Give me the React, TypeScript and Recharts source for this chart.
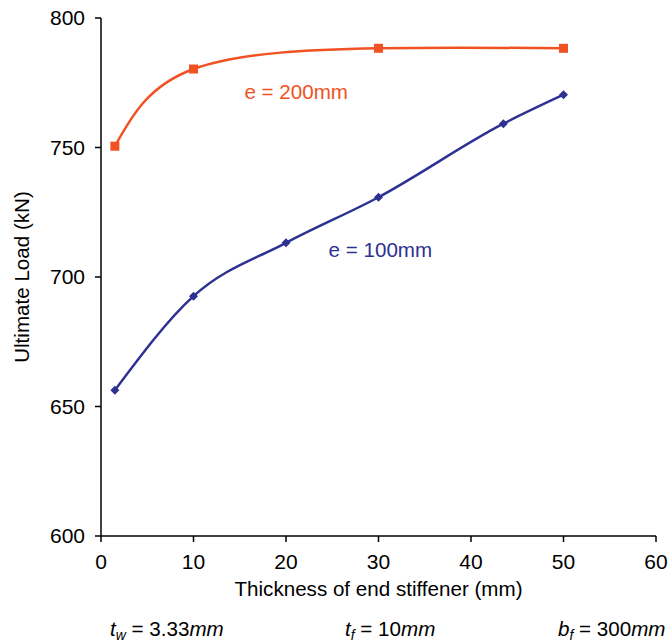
import React from 'react';
import { LineChart, Line, XAxis, YAxis, ReferenceDot } from 'recharts';

const thickness200 = [1.5, 10, 30, 50];
const load200 = [750.5, 780.3, 788.3, 788.3];
const thickness100 = [1.5, 10, 20, 30, 43.5, 50];
const load100 = [656.3, 692.6, 713.2, 730.8, 759.2, 770.4];
const xTicks = [0, 10, 20, 30, 40, 50, 60];
const yTicks = [600, 650, 700, 750, 800];

const series200 = thickness200.map((x, i) => ({ x, y: load200[i] }));
const series100 = thickness100.map((x, i) => ({ x, y: load100[i] }));

const ORANGE = '#F05223';
const BLUE = '#2E3192';
const FONT = 'Liberation Sans, Arial, sans-serif';

const SquareDot = (props: any) => {
  const { cx, cy } = props;
  if (cx == null || cy == null) return null;
  return <rect x={cx - 4.5} y={cy - 4.5} width={9} height={9} fill={ORANGE} />;
};

const DiamondDot = (props: any) => {
  const { cx, cy } = props;
  if (cx == null || cy == null) return null;
  return (
    <polygon
      points={`${cx},${cy - 4.5} ${cx + 4.5},${cy} ${cx},${cy + 4.5} ${cx - 4.5},${cy}`}
      fill={BLUE}
    />
  );
};

export default function App() {
  return (
    <div style={{ position: 'absolute', left: 0, top: 0, width: 670, height: 642, background: '#fff', fontFamily: FONT }}>
      <LineChart width={670} height={642} margin={{ top: 18, right: 14, bottom: 46, left: 41 }}>
        <XAxis
          type="number"
          dataKey="x"
          domain={[0, 60]}
          ticks={xTicks}
          allowDataOverflow
          stroke="#000"
          strokeWidth={1.5}
          tickSize={6}
          tick={{ fill: '#000', fontSize: 21, fontFamily: FONT }}
          tickMargin={12}
          height={60}
          label={{ value: 'Thickness of end stiffener (mm)', position: 'insideBottom', offset: 0, fill: '#000', fontSize: 20.6, fontFamily: FONT }}
        />
        <YAxis
          type="number"
          dataKey="y"
          domain={[600, 800]}
          ticks={yTicks}
          allowDataOverflow
          stroke="#000"
          strokeWidth={1.5}
          tickSize={6}
          tickMargin={10}
          width={60}
          tick={{ fill: '#000', fontSize: 21, fontFamily: FONT }}
          label={{ value: 'Ultimate Load (kN)', angle: -90, position: 'insideLeft', offset: -19, fill: '#000', fontSize: 20.6, fontFamily: FONT, style: { textAnchor: 'middle' } }}
        />
        <Line
          data={series200}
          dataKey="y"
          type="natural"
          stroke={ORANGE}
          strokeWidth={2.5}
          dot={<SquareDot />}
          activeDot={false}
          isAnimationActive={false}
        />
        <Line
          data={series100}
          dataKey="y"
          type="monotone"
          stroke={BLUE}
          strokeWidth={2.5}
          dot={<DiamondDot />}
          activeDot={false}
          isAnimationActive={false}
        />
        <ReferenceDot x={21.1} y={771.5} r={0} fill="none" stroke="none"
          label={{ value: 'e = 200mm', position: 'center', fill: ORANGE, fontSize: 20.6, fontFamily: FONT }} />
        <ReferenceDot x={30.2} y={710.5} r={0} fill="none" stroke="none"
          label={{ value: 'e = 100mm', position: 'center', fill: BLUE, fontSize: 20.6, fontFamily: FONT }} />
      </LineChart>
      <svg width={670} height={642} style={{ position: 'absolute', left: 0, top: 0, pointerEvents: 'none' }}>
        <text x={110} y={636} fontSize={20.6} fontFamily={FONT} fill="#000">
          <tspan fontStyle="italic">t</tspan>
          <tspan fontStyle="italic" fontSize={14} dy={4}>w</tspan>
          <tspan dy={-4}> = 3.33</tspan>
          <tspan fontStyle="italic">mm</tspan>
        </text>
        <text x={345} y={636} fontSize={20.6} fontFamily={FONT} fill="#000">
          <tspan fontStyle="italic">t</tspan>
          <tspan fontStyle="italic" fontSize={14} dy={4}>f</tspan>
          <tspan dy={-4}> = 10</tspan>
          <tspan fontStyle="italic">mm</tspan>
        </text>
        <text x={558} y={636} fontSize={20.6} fontFamily={FONT} fill="#000">
          <tspan fontStyle="italic">b</tspan>
          <tspan fontStyle="italic" fontSize={14} dy={4}>f</tspan>
          <tspan dy={-4}> = 300</tspan>
          <tspan fontStyle="italic">mm</tspan>
        </text>
      </svg>
    </div>
  );
}
